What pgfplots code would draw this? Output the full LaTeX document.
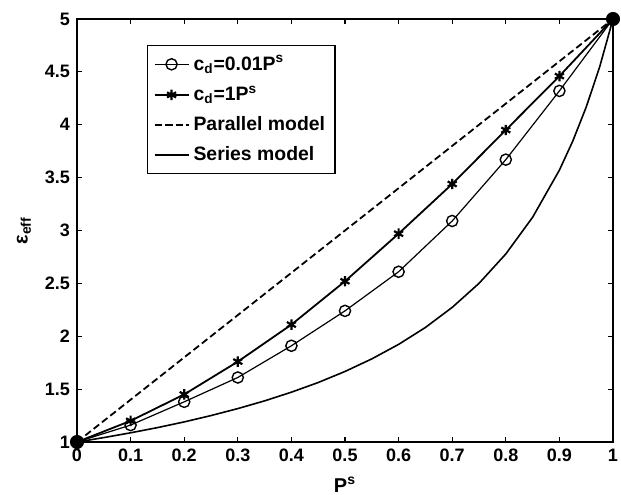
\documentclass[border=0pt]{standalone}
\usepackage{pgfplots}
\pgfplotsset{compat=1.18}
\usepackage{fontspec}
\setmainfont{Liberation Sans}

\begin{document}
\begin{tikzpicture}
% frame so the margins match the reference (1pt = 2px)
\useasboundingbox (-38.5pt,-26pt) rectangle (272pt,221pt);
\begin{axis}[
  at={(0,0)}, anchor=south west,
  scale only axis,
  width=268pt,
  height=211.5pt,
  xmin=0, xmax=1,
  ymin=1, ymax=5,
  xtick={0,0.1,...,1},
  ytick={1,1.5,...,5},
  xticklabels={0,0.1,0.2,0.3,0.4,0.5,0.6,0.7,0.8,0.9,1},
  yticklabels={1,1.5,2,2.5,3,3.5,4,4.5,5},
  tick align=inside,
  tick style={black, line width=0.6pt},
  major tick length=2.5pt,
  axis line style={line width=1pt},
  tick label style={font=\fontsize{9}{11}\selectfont\bfseries},
  xlabel={P\textsuperscript{s}},
  ylabel={ε\textsubscript{eff}},
  label style={font=\fontsize{10}{12}\selectfont\bfseries},
  xlabel style={at={(axis description cs:0.5,0)}, anchor=base, yshift=-25pt},
  ylabel style={at={(axis description cs:0,0.5)}, anchor=center, yshift=26.5pt},
  legend style={at={(0.1306,0.9387)}, anchor=north west, draw=black, line width=0.6pt,
    font=\fontsize{9.7}{12}\selectfont\bfseries, row sep=2.5pt, inner sep=3pt,
    cells={anchor=west}},
  legend cell align=left,
  clip=false,
]
\addplot[black, line width=0.6pt, mark=o, mark size=2.8pt, mark options={line width=0.7pt}] coordinates {
  (0,1) (0.1,1.16) (0.2,1.38) (0.3,1.61) (0.4,1.91) (0.5,2.24)
  (0.6,2.61) (0.7,3.09) (0.8,3.67) (0.9,4.32) (1,5)
};
\addlegendentry{c\textsubscript{d}=0.01P\textsuperscript{s}}
\addplot[black, line width=0.9pt, mark=asterisk, mark size=2.6pt, mark options={line width=1.1pt}] coordinates {
  (0,1) (0.1,1.2) (0.2,1.45) (0.3,1.76) (0.4,2.11) (0.5,2.52)
  (0.6,2.97) (0.7,3.44) (0.8,3.95) (0.9,4.46) (1,5)
};
\addlegendentry{c\textsubscript{d}=1P\textsuperscript{s}}
\addplot[black, line width=0.9pt, dash pattern=on 3.5pt off 1.8pt] coordinates {
  (0,1) (1,5)
};
\addlegendentry{Parallel model}
\addplot[black, line width=0.8pt] coordinates {
  (0,1) (0.05,1.0417) (0.1,1.087) (0.15,1.136) (0.2,1.190) (0.25,1.25)
  (0.3,1.316) (0.35,1.389) (0.4,1.471) (0.45,1.5625) (0.5,1.667)
  (0.55,1.786) (0.6,1.923) (0.65,2.083) (0.7,2.273) (0.75,2.5)
  (0.8,2.778) (0.85,3.125) (0.9,3.571) (0.925,3.846) (0.95,4.167)
  (0.975,4.545) (1,5)
};
\addlegendentry{Series model}
\addplot[only marks, black, mark=*, mark size=3.3pt, forget plot] coordinates {
  (0,1) (1,5)
};
\end{axis}
\end{tikzpicture}
\end{document}
